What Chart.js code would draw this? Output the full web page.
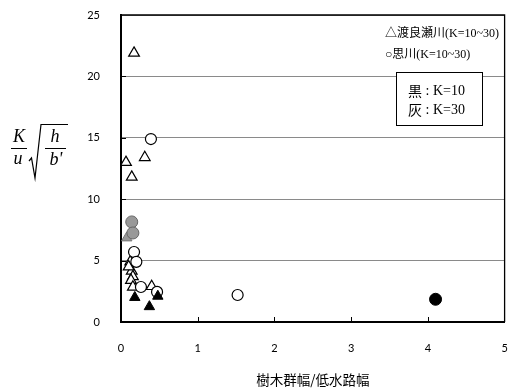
<!DOCTYPE html>
<html>
<head>
<meta charset="utf-8">
<script src="https://cdn.jsdelivr.net/npm/chart.js@4"></script>
<style>
  html, body { margin: 0; padding: 0; background: #fff; }
  canvas { display: block; }
</style>
</head>
<body>
<canvas id="c" width="512" height="388"></canvas>
<script>
// 渡良瀬川 (open triangles, K=10~30)
const watarase_x = [0.17, 0.065, 0.31, 0.14, 0.12, 0.14, 0.155, 0.13, 0.155, 0.40, 0.10];
const watarase_y = [21.9, 13.0, 13.4, 11.8, 4.9, 4.15, 3.7, 3.4, 2.85, 2.9, 4.5];
// 思川 (open circles, K=10~30)
const omoi_x = [0.39, 0.17, 0.20, 0.26, 0.47, 1.52];
const omoi_y = [14.9, 5.7, 4.9, 2.85, 2.45, 2.2];
// 灰: K=30
const greyTri_x = [0.075];
const greyTri_y = [6.85];
const greyCir_x = [0.14, 0.155];
const greyCir_y = [8.15, 7.25];
// 黒: K=10
const blackTri_x = [0.18, 0.37, 0.48];
const blackTri_y = [2.0, 1.25, 2.1];
const blackCir_x = [4.1];
const blackCir_y = [1.85];

const xTicks = [0, 1, 2, 3, 4, 5];
const yTicks = [0, 5, 10, 15, 20, 25];

const xTitle = '樹木群幅/低水路幅';
const legendLines = ['△渡良瀬川(K=10~30)', '○思川(K=10~30)'];
const boxLines = [['黒', ' : K=10'], ['灰', ' : K=30']];

const pts = (xs, ys) => xs.map((x, i) => ({ x: x, y: ys[i] }));

const CJK = '"Noto Sans CJK JP"';
const SERIF = '"Liberation Serif"';

// drop the label overhang padding so the plot area follows layout.padding only
const noOverhang = s => { s.paddingLeft = 0; s.paddingRight = 0; s.paddingTop = 0; s.paddingBottom = 0; };

// frame, inner tick marks, legend and the y-axis formula
const decor = {
  id: 'decor',
  afterDraw(chart) {
    const ctx = chart.ctx;
    const a = chart.chartArea;
    const xs = chart.scales.x, ys = chart.scales.y;
    ctx.save();
    // top and right frame lines
    ctx.strokeStyle = '#000';
    ctx.lineWidth = 1.3;
    ctx.beginPath();
    ctx.moveTo(a.left, a.top);
    ctx.lineTo(a.right, a.top);
    ctx.lineTo(a.right, a.bottom);
    ctx.stroke();
    // inward tick marks
    ctx.lineWidth = 1;
    ctx.beginPath();
    yTicks.forEach(v => {
      if (v === 0 || v === 25) return;
      const y = Math.round(ys.getPixelForValue(v)) + 0.5;
      ctx.moveTo(a.left, y); ctx.lineTo(a.left + 5, y);
    });
    xTicks.forEach(v => {
      if (v === 0 || v === 5) return;
      const x = Math.round(xs.getPixelForValue(v)) + 0.5;
      ctx.moveTo(x, a.bottom); ctx.lineTo(x, a.bottom - 5);
    });
    ctx.stroke();

    // series legend
    ctx.fillStyle = '#000';
    ctx.textBaseline = 'middle';
    ctx.textAlign = 'left';
    ctx.font = '12px ' + SERIF + ', ' + CJK;
    ctx.fillText(legendLines[0], 385, 34);
    ctx.fillText(legendLines[1], 385, 55);

    // colour key box
    ctx.fillStyle = '#fff';
    ctx.fillRect(396, 72, 87, 54);
    ctx.strokeStyle = '#000';
    ctx.lineWidth = 1;
    ctx.strokeRect(396.5, 72.5, 86, 53);
    ctx.fillStyle = '#000';
    boxLines.forEach((ln, i) => {
      const y = 91 + i * 19;
      ctx.font = '14px ' + CJK;
      ctx.fillText(ln[0], 408, y);
      const w = ctx.measureText(ln[0]).width;
      ctx.font = '14px ' + SERIF;
      ctx.fillText(ln[1], 408 + w, y);
    });

    // y-axis formula  K/ū √(h/b')
    ctx.font = 'italic 18px ' + SERIF;
    ctx.textAlign = 'center';
    ctx.textBaseline = 'alphabetic';
    ctx.fillText('K', 19, 142);
    ctx.fillText('u', 18, 164);
    ctx.fillText('h', 55, 142);
    ctx.fillText("b'", 56, 165);
    ctx.lineWidth = 1;
    ctx.beginPath();
    ctx.moveTo(11, 148.5); ctx.lineTo(27, 148.5);
    ctx.moveTo(45, 148.5); ctx.lineTo(66, 148.5);
    ctx.stroke();
    ctx.lineWidth = 1.2;
    ctx.beginPath();
    ctx.moveTo(29, 161);
    ctx.lineTo(31.5, 158);
    ctx.lineTo(35, 178);
    ctx.lineTo(41, 124.5);
    ctx.lineTo(68, 124.5);
    ctx.stroke();
    ctx.restore();
  }
};

new Chart(document.getElementById('c'), {
  type: 'scatter',
  data: {
    datasets: [
      { label: '黒 三角', data: pts(blackTri_x, blackTri_y), pointStyle: 'triangle', pointRadius: 6,
        backgroundColor: '#000', borderColor: '#000', borderWidth: 1, order: 0 },
      { label: '黒 丸', data: pts(blackCir_x, blackCir_y), pointStyle: 'circle', pointRadius: 6,
        backgroundColor: '#000', borderColor: '#000', borderWidth: 1, order: 0 },
      { label: '灰 丸', data: pts(greyCir_x, greyCir_y), pointStyle: 'circle', pointRadius: 6,
        backgroundColor: '#999', borderColor: '#666', borderWidth: 1, order: 1 },
      { label: '灰 三角', data: pts(greyTri_x, greyTri_y), pointStyle: 'triangle', pointRadius: 6,
        backgroundColor: '#999', borderColor: '#777', borderWidth: 1, order: 2 },
      { label: '思川', data: pts(omoi_x, omoi_y), pointStyle: 'circle', pointRadius: 5.5,
        backgroundColor: '#fff', borderColor: '#000', borderWidth: 1.2, order: 3 },
      { label: '渡良瀬川', data: pts(watarase_x, watarase_y), pointStyle: 'triangle', pointRadius: 6.2,
        backgroundColor: '#fff', borderColor: '#000', borderWidth: 1.2, order: 4 }
    ]
  },
  options: {
    responsive: false,
    animation: false,
    devicePixelRatio: 1,
    layout: { padding: { left: 0, right: 4, top: 15, bottom: 0 } },
    plugins: { legend: { display: false }, tooltip: { enabled: false } },
    scales: {
      x: {
        type: 'linear', min: 0, max: 5,
        afterBuildTicks: s => { s.ticks = xTicks.map(v => ({ value: v })); },
        afterFit: s => { s.height = 66; noOverhang(s); },
        grid: { display: false, drawTicks: false },
        border: { display: true, color: '#000', width: 2 },
        ticks: { padding: 20, color: '#000', font: { family: 'Lato', size: 11 } },
        title: { display: true, text: xTitle, color: '#000', padding: { top: 0, bottom: 0 },
                 font: { family: 'Noto Sans CJK JP', size: 13.5 } }
      },
      y: {
        type: 'linear', min: 0, max: 25,
        afterBuildTicks: s => { s.ticks = yTicks.map(v => ({ value: v })); },
        afterFit: s => { s.width = 121; noOverhang(s); },
        grid: { color: '#8a8a8a', lineWidth: 1, drawTicks: false },
        border: { display: true, color: '#000', width: 2 },
        ticks: { padding: 21, color: '#000', font: { family: 'Lato', size: 11 } }
      }
    }
  },
  plugins: [decor]
});
</script>
</body>
</html>
